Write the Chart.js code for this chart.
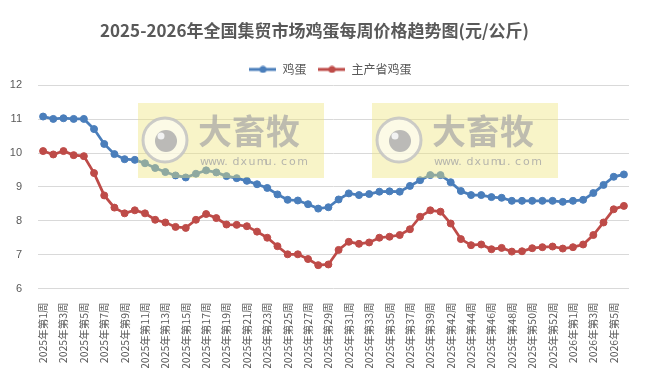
<!DOCTYPE html>
<html>
<head>
<meta charset="utf-8">
<script src="https://cdn.jsdelivr.net/npm/chart.js@4"></script>
<style>
  html, body { margin: 0; padding: 0; background: #ffffff; }
  #c { display: block; }
</style>
</head>
<body>
<canvas id="c" width="645" height="376"></canvas>
<script>
const chartTitle = '2025-2026年全国集贸市场鸡蛋每周价格趋势图(元/公斤)';
const seriesNames = ['鸡蛋', '主产省鸡蛋'];

const categories = [
  '2025年第1周','2025年第2周','2025年第3周','2025年第4周','2025年第5周','2025年第6周','2025年第7周','2025年第8周',
  '2025年第9周','2025年第10周','2025年第11周','2025年第12周','2025年第13周','2025年第14周','2025年第15周','2025年第16周',
  '2025年第17周','2025年第18周','2025年第19周','2025年第20周','2025年第21周','2025年第22周','2025年第23周','2025年第24周',
  '2025年第25周','2025年第26周','2025年第27周','2025年第28周','2025年第29周','2025年第30周','2025年第31周','2025年第32周',
  '2025年第33周','2025年第34周','2025年第35周','2025年第36周','2025年第37周','2025年第38周','2025年第39周','2025年第41周',
  '2025年第42周','2025年第43周','2025年第44周','2025年第45周','2025年第46周','2025年第47周','2025年第48周','2025年第49周',
  '2025年第50周','2025年第51周','2025年第52周','2025年第53周','2026年第1周','2026年第2周','2026年第3周','2026年第4周',
  '2026年第5周','2026年第6周'
];

const eggPrice = [
  11.08, 11.01, 11.03, 11.01, 11.01, 10.71, 10.27, 9.97, 9.82, 9.80,
  9.70, 9.56, 9.44, 9.34, 9.28, 9.39, 9.49, 9.43, 9.32, 9.26,
  9.18, 9.08, 8.97, 8.78, 8.62, 8.60, 8.49, 8.36, 8.40, 8.63,
  8.81, 8.76, 8.79, 8.86, 8.87, 8.86, 9.03, 9.20, 9.35, 9.35,
  9.14, 8.88, 8.76, 8.76, 8.70, 8.68, 8.59, 8.59, 8.59, 8.59,
  8.59, 8.56, 8.59, 8.62, 8.82, 9.06, 9.30, 9.37
];

const mainProvinceEggPrice = [
  10.06, 9.96, 10.06, 9.94, 9.91, 9.41, 8.75, 8.39, 8.22, 8.31,
  8.22, 8.03, 7.95, 7.82, 7.79, 8.03, 8.20, 8.08, 7.89, 7.88,
  7.84, 7.68, 7.50, 7.25, 7.01, 7.01, 6.87, 6.69, 6.71, 7.14,
  7.38, 7.32, 7.36, 7.50, 7.53, 7.58, 7.75, 8.12, 8.31, 8.27,
  7.92, 7.46, 7.28, 7.30, 7.16, 7.20, 7.09, 7.10, 7.19, 7.22,
  7.24, 7.18, 7.22, 7.30, 7.58, 7.95, 8.34, 8.44
];

const yTicks = [6, 7, 8, 9, 10, 11, 12];

const colors = ['#4A7EBB', '#BE4B48'];
const textColor = '#595959';
const cjkFont = '"Noto Sans CJK SC", "Noto Sans", sans-serif';

function legendSymbol(color) {
  const cv = document.createElement('canvas');
  cv.width = 27; cv.height = 8;
  const g = cv.getContext('2d');
  g.strokeStyle = color; g.lineWidth = 3;
  g.beginPath(); g.moveTo(0, 4); g.lineTo(27, 4); g.stroke();
  g.fillStyle = color;
  g.beginPath(); g.arc(13.5, 4, 3.5, 0, Math.PI * 2); g.fill();
  return cv;
}

const legendShiftPlugin = {
  id: 'legendShift',
  afterLayout(chart) {
    const lg = chart.legend;
    if (lg) { lg.left += 16; lg.right += 16; }
  }
};

const watermarkPlugin = {
  id: 'watermark',
  afterDatasetsDraw(chart) {
    const ctx = chart.ctx;
    const marks = [[138, 103], [372, 103]];
    marks.forEach(([x, y]) => {
      ctx.save();
      ctx.fillStyle = 'rgba(238, 228, 125, 0.42)';
      ctx.fillRect(x, y, 186, 75);
      const cx = x + 27, cy = y + 37;
      ctx.beginPath(); ctx.arc(cx, cy, 22, 0, Math.PI * 2);
      ctx.fillStyle = 'rgba(255,255,255,0.55)'; ctx.fill();
      ctx.lineWidth = 3; ctx.strokeStyle = 'rgba(195,195,195,0.85)'; ctx.stroke();
      ctx.beginPath(); ctx.arc(cx + 1, cy + 1, 11, 0, Math.PI * 2);
      ctx.fillStyle = 'rgba(175,175,175,0.85)'; ctx.fill();
      ctx.beginPath(); ctx.arc(cx - 4, cy - 4, 3.5, 0, Math.PI * 2);
      ctx.fillStyle = 'rgba(245,245,245,0.95)'; ctx.fill();
      ctx.fillStyle = 'rgba(165,165,165,0.7)';
      ctx.font = 'bold 34px ' + cjkFont;
      ctx.textBaseline = 'middle';
      ctx.textAlign = 'left';
      ctx.fillText('大畜牧', x + 60, y + 28);
      ctx.font = '11px "DejaVu Sans", sans-serif';
      ctx.fillStyle = 'rgba(165,165,165,0.8)';
      const url = 'www.dxumu.com';
      let tx = x + 62;
      for (const ch of url) { ctx.fillText(ch, tx, y + 59); tx += 8.1; }
      ctx.restore();
    });
  }
};

new Chart(document.getElementById('c'), {
  type: 'line',
  data: {
    labels: categories,
    datasets: [
      {
        label: seriesNames[0], data: eggPrice,
        borderColor: colors[0], backgroundColor: colors[0],
        borderWidth: 2.75, pointRadius: 3.5, pointBorderWidth: 1,
        pointBackgroundColor: colors[0], pointBorderColor: colors[0],
        tension: 0
      },
      {
        label: seriesNames[1], data: mainProvinceEggPrice,
        borderColor: colors[1], backgroundColor: colors[1],
        borderWidth: 2.75, pointRadius: 3.5, pointBorderWidth: 1,
        pointBackgroundColor: colors[1], pointBorderColor: colors[1],
        tension: 0
      }
    ]
  },
  options: {
    responsive: false,
    devicePixelRatio: 1,
    animation: false,
    layout: { padding: { left: 0, right: 16, top: 0, bottom: 8 } },
    plugins: {
      title: {
        display: true, text: chartTitle, color: textColor,
        font: { family: cjkFont, size: 17, weight: 'bold' },
        padding: { top: 20, bottom: 11 }
      },
      legend: {
        display: true, position: 'top',
        labels: {
          color: textColor,
          font: { family: cjkFont, size: 12 },
          usePointStyle: true,
          pointStyleWidth: 27,
          boxHeight: 8,
          padding: 12,
          generateLabels(chart) {
            return chart.data.datasets.map((ds, i) => ({
              text: ds.label, fontColor: textColor,
              pointStyle: legendSymbol(colors[i]),
              strokeStyle: colors[i], fillStyle: colors[i],
              lineWidth: 0, hidden: false, datasetIndex: i
            }));
          }
        }
      },
      tooltip: { enabled: false }
    },
    scales: {
      x: {
        type: 'category',
        offset: true,
        grid: { display: false },
        border: { display: false },
        afterFit(scale) { scale.height = 79.5; },
        ticks: {
          autoSkip: false, maxRotation: 90, minRotation: 90,
          color: textColor, padding: 6,
          font: { family: cjkFont, size: 10.5 },
          callback(val, idx) { return idx % 2 === 0 ? categories[idx] : ''; }
        }
      },
      y: {
        min: yTicks[0], max: yTicks[yTicks.length - 1],
        afterBuildTicks(scale) { scale.ticks = yTicks.map(v => ({ value: v })); },
        afterFit(scale) { scale.width = 38; },
        grid: { color: '#D9D9D9', lineWidth: 1, drawTicks: false },
        border: { display: false },
        ticks: {
          color: textColor, padding: 16,
          font: { family: '"Liberation Sans", sans-serif', size: 11 }
        }
      }
    }
  },
  plugins: [legendShiftPlugin, watermarkPlugin]
});
</script>
</body>
</html>
